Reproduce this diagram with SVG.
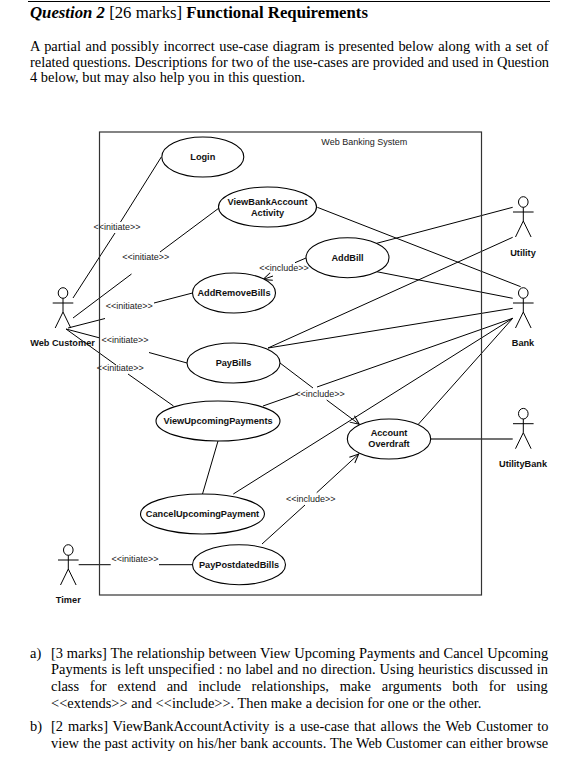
<svg xmlns="http://www.w3.org/2000/svg" width="575" height="782" viewBox="0 0 575 782">
<style>
text{font-family:"Liberation Sans",Arial,sans-serif;fill:#111}
.n{font-size:9.2px;font-weight:bold;text-anchor:middle}
.l{font-size:9px;text-anchor:middle;fill:#222}
.t{font-family:"Liberation Serif","Times New Roman",serif;font-size:14.43px;fill:#000}
.u{fill:#fff;stroke:#000;stroke-width:1.1}
.c{fill:none;stroke:#000;stroke-width:1}
.a{fill:none;stroke:#000;stroke-width:1}
</style>
<defs>
<marker id="o" markerUnits="userSpaceOnUse" markerWidth="12" markerHeight="12" refX="10" refY="6" orient="auto"><path d="M1 2L10 6L1 10" fill="none" stroke="#000" stroke-width="1"/></marker>
<g id="act"><ellipse cx="0" cy="0" rx="4.8" ry="5.3" fill="#fff" stroke="#000"/><path class="a" d="M0 5.3V19M-10.3 10H10.3M-7.8 35L0 19L7.8 35"/></g>
</defs>
<rect width="575" height="782" fill="#fff"/>
<g id="page-text">
<path d="M28 1.5H550" stroke="#000" stroke-width="1"/>
<text class="t" x="30" y="18" style="font-size:16.75px"><tspan font-weight="bold" font-style="italic">Question 2</tspan> [26 marks] <tspan font-weight="bold">Functional Requirements</tspan></text>
<text class="t" x="30" y="51" word-spacing="0.93">A partial and possibly incorrect use-case diagram is presented below along with a set of</text>
<text class="t" x="30" y="66.5">related questions. Descriptions for two of the use-cases are provided and used in Question</text>
<text class="t" x="30" y="82">4 below, but may also help you in this question.</text>
<text class="t" x="30" y="657.5">a)</text>
<text class="t" x="51" y="657.5" word-spacing="0.2">[3 marks] The relationship between View Upcoming Payments and Cancel Upcoming</text>
<text class="t" x="51" y="674" word-spacing="0.46">Payments is left unspecified : no label and no direction. Using heuristics discussed in</text>
<text class="t" x="51" y="691" word-spacing="7.2">class for extend and include relationships, make arguments both for using</text>
<text class="t" x="51" y="707.5">&lt;&lt;extends&gt;&gt; and &lt;&lt;include&gt;&gt;. Then make a decision for one or the other.</text>
<text class="t" x="30" y="731">b)</text>
<text class="t" x="51" y="731" word-spacing="1.3">[2 marks] ViewBankAccountActivity is a use-case that allows the Web Customer to</text>
<text class="t" x="51" y="747.5" word-spacing="0.3">view the past activity on his/her bank accounts. The Web Customer can either browse</text>
</g>
<g id="connectors">
<path class="c" d="M161.3 157L120.500 222M115 233L73 298"/>
<path class="c" d="M219 208L160 252M131.5 274L73 318"/>
<path class="c" d="M192.5 293L154 303M105 318.500L68 328"/>
<path class="c" d="M187 363L149 352.500M100 338L66 329"/>
<path class="c" d="M173.500 406L128 374M116 365L66 329"/>
<path class="c" d="M218 441L202.500 494"/>
<path class="c" d="M233.300 494L512.700 318.300"/>
<path class="c" d="M263 406L298 393.700M317 387L512.700 318.300"/>
<path class="c" d="M268 348L512.700 308.300"/>
<path class="c" d="M268 348L512.700 237.300"/>
<path class="c" d="M376.700 271.700L512.700 298.300"/>
<path class="c" d="M376.700 243.300L512.700 207.300"/>
<path class="c" d="M317.300 207.300L520.700 286.700"/>
<path class="c" d="M418.300 424.300L512.700 318.300"/>
<path d="M431 439H512.700" stroke="#444" stroke-width="1.500" fill="none"/>
<path class="c" d="M280 363L313 388"/>
<path class="c" d="M326.700 400L359.300 424.300" marker-end="url(#o)"/>
<path class="c" d="M262 544L305 505"/>
<path class="c" d="M316.700 492.700L358.700 454" marker-end="url(#o)"/>
<path class="c" d="M306 258L295 262.700"/>
<path class="c" d="M273 276L263 279.500" marker-end="url(#o)"/>
<path class="c" d="M78.700 564.700H110.700M159 564.700H192.700"/>
<text class="l" x="117" y="230">&lt;&lt;initiate&gt;&gt;</text>
<text class="l" x="145.700" y="260">&lt;&lt;initiate&gt;&gt;</text>
<text class="l" x="129.300" y="309">&lt;&lt;initiate&gt;&gt;</text>
<text class="l" x="125" y="343">&lt;&lt;initiate&gt;&gt;</text>
<text class="l" x="120.300" y="371">&lt;&lt;initiate&gt;&gt;</text>
<text class="l" x="135" y="562">&lt;&lt;initiate&gt;&gt;</text>
<text class="l" x="284" y="271">&lt;&lt;include&gt;&gt;</text>
<text class="l" x="320" y="397">&lt;&lt;include&gt;&gt;</text>
<text class="l" x="310.700" y="502">&lt;&lt;include&gt;&gt;</text>
</g>
<g id="system"><rect x="99.500" y="132" width="382" height="463" fill="none" stroke="#333" stroke-width="1.200"/><text class="l" x="364.300" y="145">Web Banking System</text></g>
<g id="login"><ellipse class="u" cx="202.800" cy="157" rx="41" ry="20"/><text class="n" x="202.800" y="160">Login</text></g>
<g id="viewbank"><ellipse class="u" cx="267.500" cy="207" rx="49" ry="20"/><text class="n" x="267.500" y="205">ViewBankAccount</text><text class="n" x="267.500" y="216">Activity</text></g>
<g id="addbill"><ellipse class="u" cx="347.500" cy="257.700" rx="41.500" ry="20"/><text class="n" x="347.500" y="261">AddBill</text></g>
<g id="addremove"><ellipse class="u" cx="234" cy="293" rx="41.500" ry="20"/><text class="n" x="234" y="296">AddRemoveBills</text></g>
<g id="paybills"><ellipse class="u" cx="233.500" cy="363" rx="46.500" ry="20"/><text class="n" x="233.500" y="366">PayBills</text></g>
<g id="viewupcoming"><ellipse class="u" cx="218" cy="421" rx="62" ry="20"/><text class="n" x="218" y="424">ViewUpcomingPayments</text></g>
<g id="cancel"><ellipse class="u" cx="202.500" cy="514" rx="62" ry="20"/><text class="n" x="202.500" y="517">CancelUpcomingPayment</text></g>
<g id="paypost"><ellipse class="u" cx="239" cy="564.700" rx="46.500" ry="20"/><text class="n" x="239" y="568">PayPostdatedBills</text></g>
<g id="overdraft"><ellipse class="u" cx="389" cy="439" rx="41.700" ry="20"/><text class="n" x="389" y="436">Account</text><text class="n" x="389" y="447">Overdraft</text></g>
<g id="webcustomer"><use href="#act" x="63" y="293"/><text class="n" x="62.500" y="346">Web Customer</text></g>
<g id="utility"><use href="#act" x="523.300" y="202"/><text class="n" x="523" y="256">Utility</text></g>
<g id="bank"><use href="#act" x="523.300" y="293"/><text class="n" x="523" y="346">Bank</text></g>
<g id="utilitybank"><use href="#act" x="523.300" y="413.700"/><text class="n" x="523" y="467">UtilityBank</text></g>
<g id="timer"><use href="#act" x="68.300" y="550"/><text class="n" x="68.300" y="603">Timer</text></g>
</svg>
